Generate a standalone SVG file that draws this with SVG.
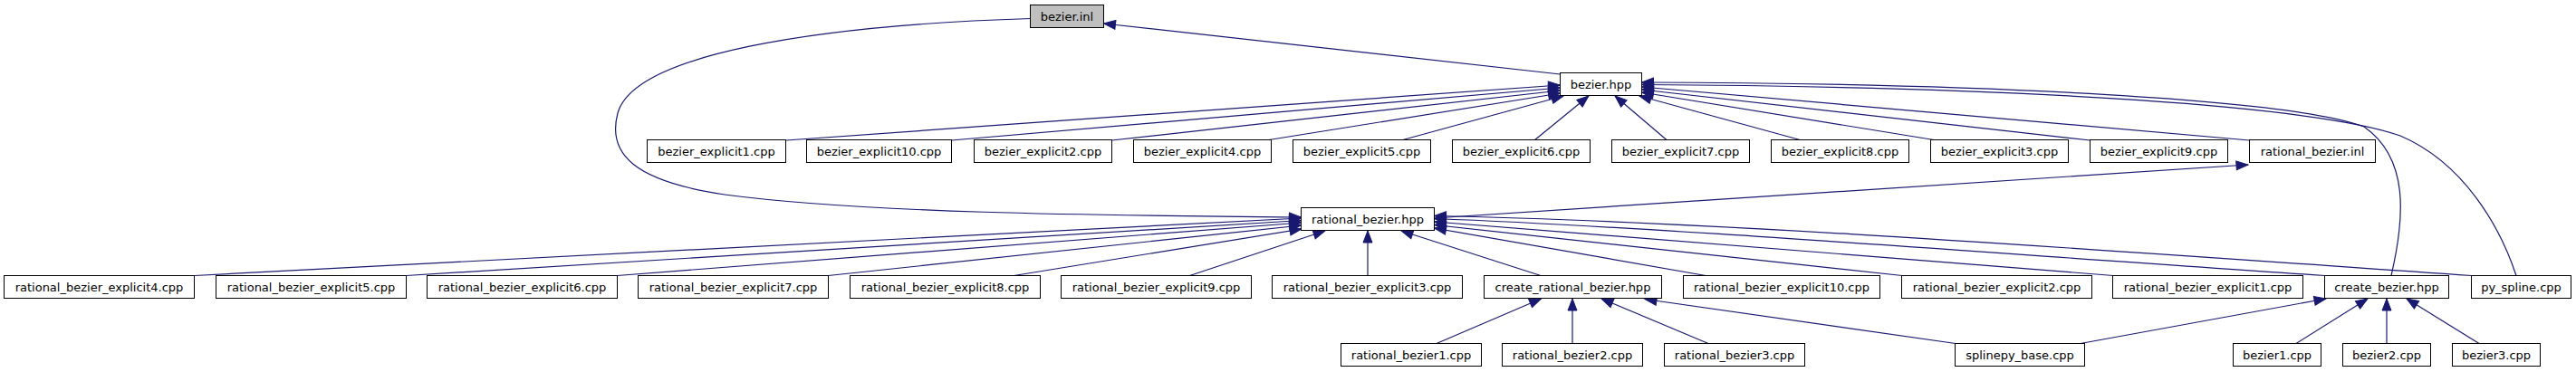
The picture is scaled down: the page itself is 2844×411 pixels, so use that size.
<svg xmlns="http://www.w3.org/2000/svg" width="2844" height="411" viewBox="0 0 2844 411">
<style>
.n rect{fill:#fff;stroke:#000;stroke-width:1}
.n.root rect{fill:#bfbfbf}
.n text{font-family:"DejaVu Sans",sans-serif;font-size:13px;text-anchor:middle;fill:#000}
#edges path{fill:none;stroke:#191970;stroke-width:1.2;marker-end:url(#arr)}
</style>
<defs>
<marker id="arr" markerUnits="userSpaceOnUse" markerWidth="16" markerHeight="12" refX="13" refY="5" orient="auto" viewBox="-1 -1 16 12">
<path d="M0,0 L13,5 L0,10 z" fill="#191970" stroke="#191970" stroke-width="1"/>
</marker>
</defs>
<rect width="2844" height="411" fill="#fff"/>
<g id="edges">
<path d="M1722.5,82 L1218.5,26"/>
<path d="M868,155 L1722.5,94"/>
<path d="M1050.5,155 L1722.5,97"/>
<path d="M1227.5,155 L1722.5,100"/>
<path d="M1398,155 L1722.5,103"/>
<path d="M1547,155 L1726,106"/>
<path d="M1694,155 L1754,106"/>
<path d="M1840.5,155 L1783,106"/>
<path d="M1989,155 L1810,106"/>
<path d="M2138,155 L1812.5,102"/>
<path d="M2307.5,155 L1812.5,99"/>
<path d="M2483.5,155 L1812.5,96"/>
<path d="M2640,304.5 C2655,240 2660,175 2610,140 C2530,110 2200,92 1812.5,91"/>
<path d="M2778,304.5 C2760,250 2720,180 2650,150 C2560,118 2250,96 1812.5,93.5"/>
<path d="M1583,241 L2482,182"/>
<path d="M1137.5,20.5 C900,28 700,60 682,125 C670,170 700,200 800,215 C950,235 1200,238 1436.5,240"/>
<path d="M215,304.5 L1436.5,241"/>
<path d="M448.5,304.5 L1436.5,243.5"/>
<path d="M681.5,304.5 L1436.5,246"/>
<path d="M914.5,304.5 L1436.5,249"/>
<path d="M1119.5,304.5 L1437,253"/>
<path d="M1313.5,304.5 L1463,255"/>
<path d="M1510,304.5 L1510,255"/>
<path d="M1701,304.5 L1547,255"/>
<path d="M1883,304.5 L1583.5,252"/>
<path d="M2100,304.5 L1583.5,248.5"/>
<path d="M2333,304.5 L1583.5,245"/>
<path d="M2566.5,304.5 C2200,280 1850,252 1583.5,241.5"/>
<path d="M2728.5,304.5 C2300,275 1900,245 1583.5,238.5"/>
<path d="M1586,379.5 L1701.5,330"/>
<path d="M1736,379.5 L1736,330"/>
<path d="M1886,379.5 L1768,330"/>
<path d="M2159,379.5 L1816,330.5"/>
<path d="M2297,379.5 L2568,330"/>
<path d="M2535,379.5 L2614,330"/>
<path d="M2635,379.5 L2635,330"/>
<path d="M2737,379.5 L2657,330"/>
</g>
<g id="bezier_inl" class="n root"><rect x="1137.5" y="5.5" width="81" height="25"/><text x="1178" y="22.5">bezier.inl</text></g>
<g id="bezier_hpp" class="n"><rect x="1722.5" y="80.5" width="90" height="25"/><text x="1767.5" y="97.5">bezier.hpp</text></g>
<g id="bezier_explicit1" class="n"><rect x="714.5" y="154.5" width="153" height="25"/><text x="791" y="171.5">bezier_explicit1.cpp</text></g>
<g id="bezier_explicit10" class="n"><rect x="890.5" y="154.5" width="160" height="25"/><text x="970.5" y="171.5">bezier_explicit10.cpp</text></g>
<g id="bezier_explicit2" class="n"><rect x="1075.5" y="154.5" width="152" height="25"/><text x="1151.5" y="171.5">bezier_explicit2.cpp</text></g>
<g id="bezier_explicit4" class="n"><rect x="1251.5" y="154.5" width="152" height="25"/><text x="1327.5" y="171.5">bezier_explicit4.cpp</text></g>
<g id="bezier_explicit5" class="n"><rect x="1427.5" y="154.5" width="152" height="25"/><text x="1503.5" y="171.5">bezier_explicit5.cpp</text></g>
<g id="bezier_explicit6" class="n"><rect x="1603.5" y="154.5" width="152" height="25"/><text x="1679.5" y="171.5">bezier_explicit6.cpp</text></g>
<g id="bezier_explicit7" class="n"><rect x="1779.5" y="154.5" width="152" height="25"/><text x="1855.5" y="171.5">bezier_explicit7.cpp</text></g>
<g id="bezier_explicit8" class="n"><rect x="1955.5" y="154.5" width="152" height="25"/><text x="2031.5" y="171.5">bezier_explicit8.cpp</text></g>
<g id="bezier_explicit3" class="n"><rect x="2131.5" y="154.5" width="152" height="25"/><text x="2207.5" y="171.5">bezier_explicit3.cpp</text></g>
<g id="bezier_explicit9" class="n"><rect x="2307.5" y="154.5" width="152" height="25"/><text x="2383.5" y="171.5">bezier_explicit9.cpp</text></g>
<g id="rational_bezier_inl" class="n"><rect x="2483.5" y="154.5" width="139" height="25"/><text x="2553" y="171.5">rational_bezier.inl</text></g>
<g id="rational_bezier_hpp" class="n"><rect x="1436.5" y="229.5" width="147" height="25"/><text x="1510" y="246.5">rational_bezier.hpp</text></g>
<g id="rational_bezier_explicit4" class="n"><rect x="4.5" y="304.5" width="210" height="25"/><text x="109.5" y="321.5">rational_bezier_explicit4.cpp</text></g>
<g id="rational_bezier_explicit5" class="n"><rect x="238.5" y="304.5" width="210" height="25"/><text x="343.5" y="321.5">rational_bezier_explicit5.cpp</text></g>
<g id="rational_bezier_explicit6" class="n"><rect x="471.5" y="304.5" width="210" height="25"/><text x="576.5" y="321.5">rational_bezier_explicit6.cpp</text></g>
<g id="rational_bezier_explicit7" class="n"><rect x="704.5" y="304.5" width="210" height="25"/><text x="809.5" y="321.5">rational_bezier_explicit7.cpp</text></g>
<g id="rational_bezier_explicit8" class="n"><rect x="938.5" y="304.5" width="210" height="25"/><text x="1043.5" y="321.5">rational_bezier_explicit8.cpp</text></g>
<g id="rational_bezier_explicit9" class="n"><rect x="1171.5" y="304.5" width="210" height="25"/><text x="1276.5" y="321.5">rational_bezier_explicit9.cpp</text></g>
<g id="rational_bezier_explicit3" class="n"><rect x="1404.5" y="304.5" width="210" height="25"/><text x="1509.5" y="321.5">rational_bezier_explicit3.cpp</text></g>
<g id="create_rational_bezier_hpp" class="n"><rect x="1638.5" y="304.5" width="196" height="25"/><text x="1736.5" y="321.5">create_rational_bezier.hpp</text></g>
<g id="rational_bezier_explicit10" class="n"><rect x="1858.5" y="304.5" width="217" height="25"/><text x="1967" y="321.5">rational_bezier_explicit10.cpp</text></g>
<g id="rational_bezier_explicit2" class="n"><rect x="2099.5" y="304.5" width="210" height="25"/><text x="2204.5" y="321.5">rational_bezier_explicit2.cpp</text></g>
<g id="rational_bezier_explicit1" class="n"><rect x="2332.5" y="304.5" width="210" height="25"/><text x="2437.5" y="321.5">rational_bezier_explicit1.cpp</text></g>
<g id="create_bezier_hpp" class="n"><rect x="2566.5" y="304.5" width="137" height="25"/><text x="2635" y="321.5">create_bezier.hpp</text></g>
<g id="py_spline_cpp" class="n"><rect x="2728.5" y="304.5" width="110" height="25"/><text x="2783.5" y="321.5">py_spline.cpp</text></g>
<g id="rational_bezier1_cpp" class="n"><rect x="1480.5" y="379.5" width="155" height="25"/><text x="1558" y="396.5">rational_bezier1.cpp</text></g>
<g id="rational_bezier2_cpp" class="n"><rect x="1658.5" y="379.5" width="155" height="25"/><text x="1736" y="396.5">rational_bezier2.cpp</text></g>
<g id="rational_bezier3_cpp" class="n"><rect x="1837.5" y="379.5" width="155" height="25"/><text x="1915" y="396.5">rational_bezier3.cpp</text></g>
<g id="splinepy_base_cpp" class="n"><rect x="2158.5" y="379.5" width="143" height="25"/><text x="2230" y="396.5">splinepy_base.cpp</text></g>
<g id="bezier1_cpp" class="n"><rect x="2465.5" y="379.5" width="97" height="25"/><text x="2514" y="396.5">bezier1.cpp</text></g>
<g id="bezier2_cpp" class="n"><rect x="2586.5" y="379.5" width="97" height="25"/><text x="2635" y="396.5">bezier2.cpp</text></g>
<g id="bezier3_cpp" class="n"><rect x="2707.5" y="379.5" width="97" height="25"/><text x="2756" y="396.5">bezier3.cpp</text></g>
</svg>
